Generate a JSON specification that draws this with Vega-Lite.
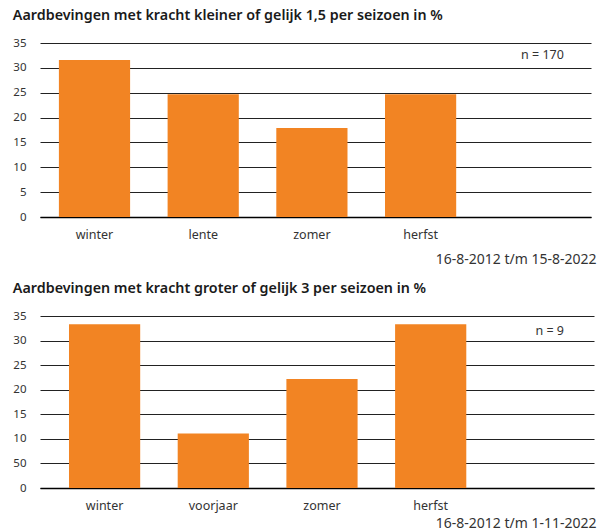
{
  "$schema": "https://vega.github.io/schema/vega-lite/v6.json",
  "autosize": {"type": "pad"},
  "padding": {"left": 12, "top": 8, "right": 8, "bottom": 0},
  "background": "white",
  "config": {
    "view": {"stroke": null},
    "font": "Noto Sans",
    "title": {"anchor": "start", "fontSize": 14.3, "fontWeight": 600, "color": "#1a1a1a", "offset": 14},
    "axisY": {
      "grid": true, "gridColor": "#222222", "gridWidth": 1, "domain": false, "ticks": false,
      "labelFontSize": 11.5, "labelColor": "#333333", "labelPadding": 14, "title": null,
      "values": [0, 5, 10, 15, 20, 25, 30, 35]
    },
    "axisX": {
      "domain": true, "domainColor": "#000000", "domainWidth": 1.5, "ticks": false, "grid": false,
      "labelFontSize": 12.5, "labelColor": "#333333", "labelPadding": 11, "labelAngle": 0,
      "titleFontSize": 14, "titleFontWeight": "normal", "titleColor": "#333333", "titleAnchor": "end", "titleAlign": "right", "titlePadding": 12
    }
  },
  "datasets": {
    "top": [
      {"seizoen": "winter", "procent": 31.6},
      {"seizoen": "lente", "procent": 24.7},
      {"seizoen": "zomer", "procent": 17.9},
      {"seizoen": "herfst", "procent": 24.7}
    ],
    "bottom": [
      {"seizoen": "winter", "procent": 33.3},
      {"seizoen": "voorjaar", "procent": 11.1},
      {"seizoen": "zomer", "procent": 22.2},
      {"seizoen": "herfst", "procent": 33.3}
    ],
    "top_n": [{"label": "n = 170"}],
    "bottom_n": [{"label": "n = 9"}]
  },
  "spacing": 14,
  "vconcat": [
    {
      "title": "Aardbevingen met kracht kleiner of gelijk 1,5 per seizoen in %",
      "width": 551,
      "height": 174,
      "layer": [
        {
          "data": {"name": "top"},
          "mark": {"type": "bar", "color": "#f28423"},
          "encoding": {
            "x": {
              "field": "seizoen", "type": "nominal", "sort": null,
              "scale": {"domain": ["winter", "lente", "zomer", "herfst", "_"], "paddingInner": 0.345, "paddingOuter": 0.207, "align": 0.42},
              "axis": {"title": "16-8-2012 t/m 15-8-2022", "labelExpr": "datum.value == '_' ? '' : datum.label", "titleX": 556}
            },
            "y": {"field": "procent", "type": "quantitative", "scale": {"domain": [0, 35], "nice": false}}
          }
        },
        {
          "data": {"name": "top_n"},
          "mark": {"type": "text", "align": "right", "baseline": "middle", "fontSize": 12.5, "color": "#333333", "dx": 34.6},
          "encoding": {
            "x": {"datum": "_", "type": "nominal"},
            "y": {"datum": 32.5, "type": "quantitative"},
            "text": {"field": "label"}
          }
        }
      ]
    },
    {
      "title": "Aardbevingen met kracht groter of gelijk 3 per seizoen in %",
      "width": 554,
      "height": 172,
      "layer": [
        {
          "data": {"name": "bottom"},
          "mark": {"type": "bar", "color": "#f28423"},
          "encoding": {
            "x": {
              "field": "seizoen", "type": "nominal", "sort": null,
              "scale": {"domain": ["winter", "voorjaar", "zomer", "herfst", "_"], "paddingInner": 0.345, "paddingOuter": 0.2208, "align": 0.604},
              "axis": {"title": "16-8-2012 t/m 1-11-2022", "labelExpr": "datum.value == '_' ? '' : datum.label", "titlePadding": 5, "titleX": 556}
            },
            "y": {
              "field": "procent", "type": "quantitative", "scale": {"domain": [0, 35], "nice": false},
              "axis": {"labelExpr": "datum.value == 5 ? '50' : datum.label"}
            }
          }
        },
        {
          "data": {"name": "bottom_n"},
          "mark": {"type": "text", "align": "right", "baseline": "middle", "fontSize": 12.5, "color": "#333333", "dx": 24.6},
          "encoding": {
            "x": {"datum": "_", "type": "nominal"},
            "y": {"datum": 32, "type": "quantitative"},
            "text": {"field": "label"}
          }
        }
      ]
    }
  ],
  "resolve": {"scale": {"x": "independent"}}
}
